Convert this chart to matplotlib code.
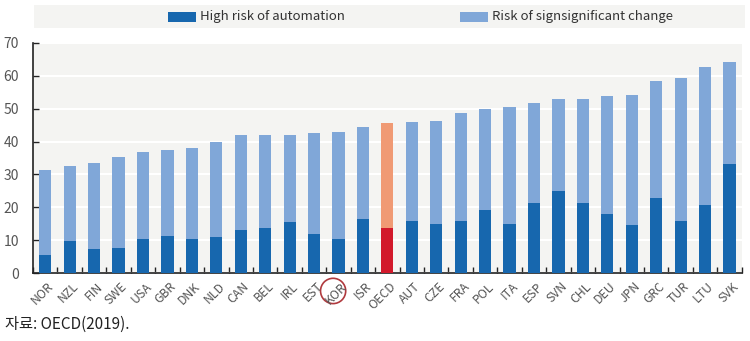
import matplotlib.pyplot as plt
import matplotlib.transforms as mtransforms
import numpy as np
from matplotlib.patches import Ellipse, Rectangle

plt.rcParams['font.family'] = ['Noto Sans CJK KR', 'DejaVu Sans']

# countries, sorted by total share of jobs at risk
countries = ["NOR", "NZL", "FIN", "SWE", "USA", "GBR", "DNK", "NLD", "CAN", "BEL",
             "IRL", "EST", "KOR", "ISR", "OECD", "AUT", "CZE", "FRA", "POL", "ITA",
             "ESP", "SVN", "CHL", "DEU", "JPN", "GRC", "TUR", "LTU", "SVK"]
high_risk = [5.6, 9.6, 7.3, 7.5, 10.2, 11.2, 10.2, 11.0, 13.1, 13.6,
             15.4, 11.9, 10.2, 16.5, 13.6, 15.9, 14.9, 15.9, 19.3, 14.9,
             21.4, 25.1, 21.2, 18.0, 14.6, 22.9, 15.8, 20.6, 33.3]
total = [31.4, 32.5, 33.4, 35.4, 36.7, 37.3, 37.9, 39.8, 41.9, 42.1,
         42.1, 42.5, 43.0, 44.5, 45.5, 46.0, 46.3, 48.8, 50.0, 50.5,
         51.6, 52.8, 52.8, 53.8, 54.2, 58.4, 59.2, 62.6, 64.1]
sig_change = [t - h for t, h in zip(total, high_risk)]

dark = "#1767ae"
light = "#80a7d8"
bg = "#f4f4f2"

dark_cols = [("#d2192b" if c == "OECD" else dark) for c in countries]
light_cols = [("#f09a74" if c == "OECD" else light) for c in countries]

fig = plt.figure(figsize=(7.5, 3.41), dpi=100)
ax = fig.add_axes([0.044, 0.1994, 0.945, 0.6746])
ax.set_facecolor(bg)

x = np.arange(len(countries))
ax.bar(x, high_risk, width=0.5, color=dark_cols, zorder=3)
ax.bar(x, sig_change, bottom=high_risk, width=0.5, color=light_cols, zorder=3)

ax.set_xlim(-0.5, len(countries) - 0.5)
ax.set_ylim(0, 70)
ax.set_yticks(range(0, 71, 10))
ax.yaxis.grid(True, color="white", linewidth=1.5, zorder=0)
ax.tick_params(axis="y", direction="in", length=4, width=1, colors="#222222",
               labelcolor="#555555", labelsize=10, pad=10)

ax.set_xticks(x)
ax.set_xticklabels(countries, rotation=45, ha="right", rotation_mode="anchor",
                   fontsize=8.8, color="#555555")
ax.tick_params(axis="x", length=0, pad=5)
shift = mtransforms.ScaledTranslation(0.02, 0, fig.dpi_scale_trans)
for lab in ax.get_xticklabels():
    lab.set_transform(lab.get_transform() + shift)
ax.set_xticks(np.arange(-0.5, len(countries), 1.0), minor=True)
ax.tick_params(axis="x", which="minor", direction="in", length=4, width=1, color="#222222")

for s in ["top", "right"]:
    ax.spines[s].set_visible(False)
ax.spines["left"].set_color("#222222")
ax.spines["bottom"].set_color("#222222")
ax.spines["left"].set_linewidth(1.2)
ax.spines["bottom"].set_linewidth(1.2)

# circle around KOR label
trans = ax.get_xaxis_transform()
kor = countries.index("KOR")
ax.add_patch(Ellipse((kor - 0.22, -0.078), 1.03, 0.11, transform=trans,
                     fill=False, edgecolor="#b03a3e", linewidth=1.2, clip_on=False))

# legend band
fig.patches.append(Rectangle((0.045, 0.918), 0.948, 0.067, transform=fig.transFigure,
                             facecolor=bg, edgecolor="none", zorder=0))
fig.patches.append(Rectangle((0.224, 0.935), 0.037, 0.03, transform=fig.transFigure,
                             facecolor=dark, edgecolor="none"))
fig.text(0.267, 0.951, "High risk of automation", fontsize=9.5, color="#333333", va="center")
fig.patches.append(Rectangle((0.613, 0.935), 0.037, 0.03, transform=fig.transFigure,
                             facecolor=light, edgecolor="none"))
fig.text(0.656, 0.951, "Risk of signsignificant change", fontsize=9.5, color="#333333", va="center")

fig.text(0.007, 0.035, "자료: OECD(2019).", fontsize=11, color="#222222")

fig.savefig("out.png", dpi=100, facecolor="white")
